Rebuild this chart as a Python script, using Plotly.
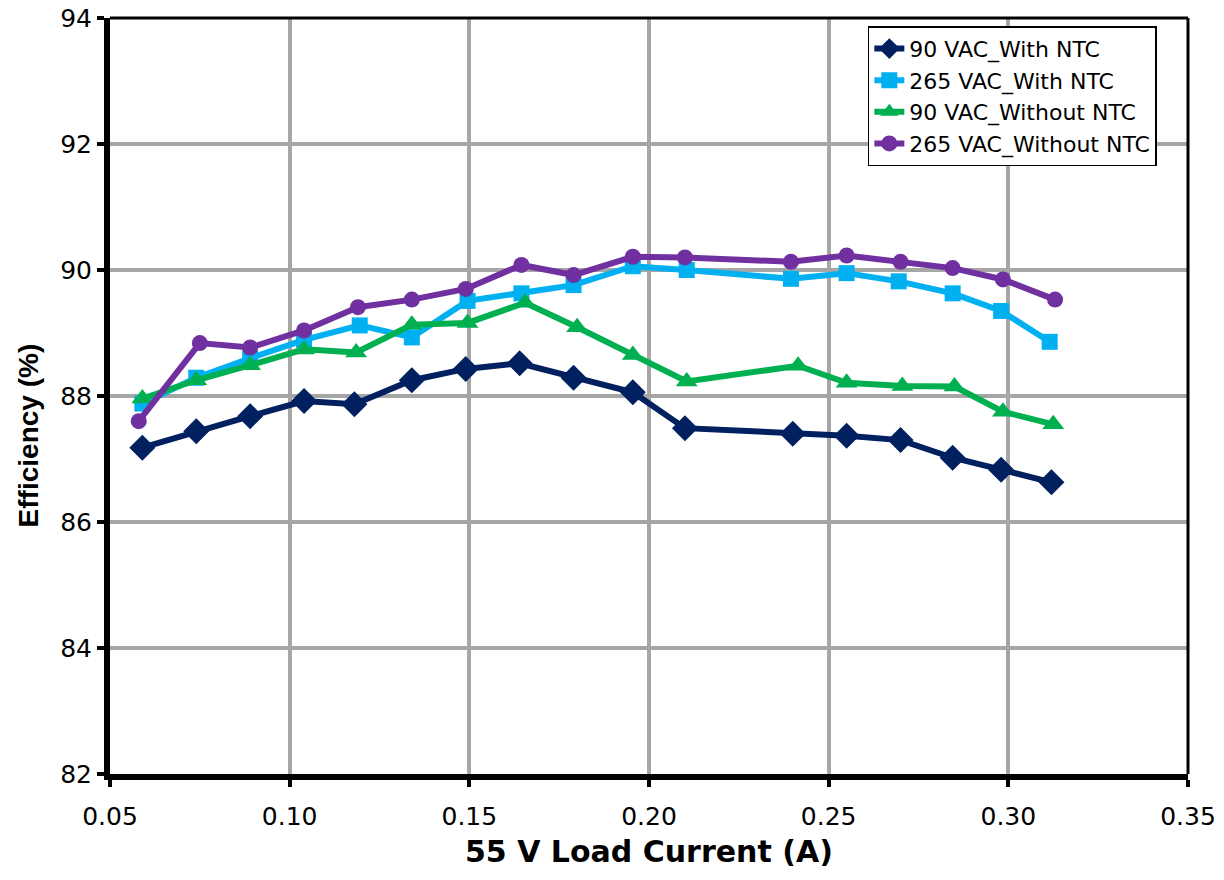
import plotly.graph_objects as go

names = ["90 VAC_With NTC", "265 VAC_With NTC", "90 VAC_Without NTC", "265 VAC_Without NTC"]

x_90_ntc = [0.059, 0.074, 0.089, 0.104, 0.118, 0.134, 0.149, 0.164, 0.179, 0.1955, 0.210, 0.240, 0.255, 0.270, 0.2845, 0.298, 0.312]
y_90_ntc = [87.18, 87.44, 87.68, 87.92, 87.87, 88.25, 88.43, 88.52, 88.29, 88.06, 87.49, 87.40, 87.37, 87.30, 87.02, 86.83, 86.63]

x_265_ntc = [0.059, 0.074, 0.089, 0.104, 0.1195, 0.134, 0.1495, 0.1645, 0.179, 0.1955, 0.2105, 0.2395, 0.255, 0.2695, 0.2845, 0.298, 0.3115]
y_265_ntc = [87.88, 88.29, 88.60, 88.89, 89.12, 88.93, 89.51, 89.63, 89.76, 90.06, 90.00, 89.86, 89.95, 89.82, 89.63, 89.35, 88.86]

x_90_no = [0.059, 0.074, 0.089, 0.104, 0.1185, 0.134, 0.1495, 0.1655, 0.180, 0.1955, 0.2105, 0.2415, 0.255, 0.2705, 0.285, 0.2985, 0.3125]
y_90_no = [87.96, 88.25, 88.49, 88.74, 88.69, 89.13, 89.16, 89.48, 89.09, 88.65, 88.23, 88.48, 88.21, 88.16, 88.15, 87.75, 87.55]

x_265_no = [0.058, 0.075, 0.089, 0.104, 0.119, 0.134, 0.149, 0.1645, 0.179, 0.1955, 0.210, 0.2395, 0.255, 0.270, 0.2845, 0.2985, 0.313]
y_265_no = [87.60, 88.84, 88.77, 89.04, 89.41, 89.53, 89.70, 90.08, 89.92, 90.21, 90.20, 90.13, 90.23, 90.13, 90.03, 89.85, 89.53]

colors = ["#002060", "#00B0F0", "#00B050", "#7030A0"]
symbols = ["diamond", "square", "triangle-up", "circle"]
msizes = [20, 16, 19, 16]

xs = [x_90_ntc, x_265_ntc, x_90_no, x_265_no]
ys = [y_90_ntc, y_265_ntc, y_90_no, y_265_no]

fig = go.Figure()
for n, xv, yv, c, s, ms in zip(names, xs, ys, colors, symbols, msizes):
    fig.add_trace(go.Scatter(x=xv, y=yv, name=n, mode="lines+markers",
                             line=dict(color=c, width=6),
                             marker=dict(color=c, symbol=s, size=ms)))

fig.update_layout(
    width=1224, height=880,
    paper_bgcolor="white", plot_bgcolor="white",
    margin=dict(l=110, r=36, t=18, b=106, autoexpand=False),
    font=dict(family="DejaVu Sans", color="black", size=24),
    legend=dict(x=0.703, y=0.989, xanchor="left", yanchor="top",
                bgcolor="white", bordercolor="black", borderwidth=1.5,
                font=dict(family="DejaVu Sans", size=22, color="black"),
                tracegroupgap=0, itemwidth=30),
    shapes=[
        dict(type="line", xref="paper", yref="paper", x0=0, x1=1, y0=1, y1=1,
             line=dict(color="black", width=3)),
        dict(type="line", xref="paper", yref="paper", x0=1, x1=1, y0=0, y1=1,
             line=dict(color="black", width=3)),
    ],
    annotations=[
        dict(text="<b>55 V Load Current (A)</b>", xref="paper", yref="paper",
             x=0.5, y=-0.103, xanchor="center", yanchor="middle", showarrow=False,
             font=dict(family="DejaVu Sans", size=30, color="black")),
        dict(text="<b>Efficiency (%)</b>", xref="paper", yref="paper",
             x=-0.076, y=0.448, xanchor="center", yanchor="middle", showarrow=False,
             textangle=-90,
             font=dict(family="Liberation Sans Narrow, Liberation Sans", size=28, color="black")),
    ],
)
fig.update_xaxes(range=[0.05, 0.35], dtick=0.05, tickformat=".2f",
                 showgrid=True, gridcolor="#A6A6A6", gridwidth=4,
                 showline=True, linecolor="black", linewidth=6, mirror=False,
                 ticks="outside", tickcolor="black", ticklen=7, tickwidth=4,
                 tickfont=dict(size=25), automargin=False, ticklabeloverflow="allow",
                 ticklabelstandoff=8)
fig.update_yaxes(range=[82, 94], dtick=2,
                 showgrid=True, gridcolor="#A6A6A6", gridwidth=4,
                 showline=True, linecolor="black", linewidth=6, mirror=False,
                 ticks="outside", tickcolor="black", ticklen=7, tickwidth=4,
                 tickfont=dict(size=25), automargin=False, ticklabeloverflow="allow")

fig.write_html("out.html")
